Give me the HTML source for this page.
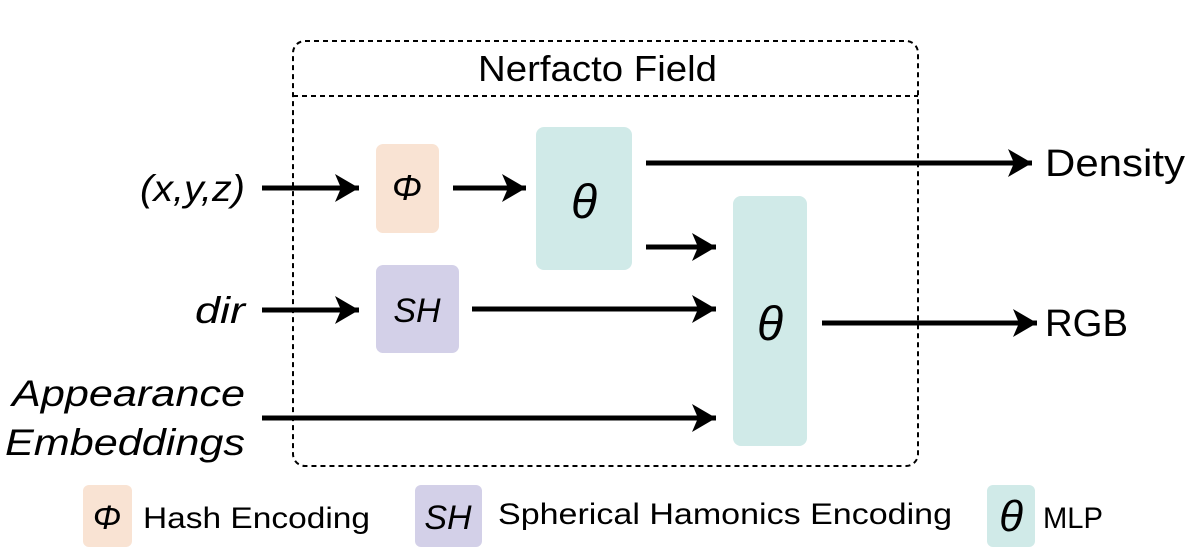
<!DOCTYPE html>
<html><head><meta charset="utf-8"><style>
html,body{margin:0;padding:0;background:#fff;}
svg{display:block;}
text{font-family:"Liberation Sans",sans-serif;fill:#000;}
.i{font-style:italic;}
</style></head><body>
<svg width="1191" height="557" viewBox="0 0 1191 557" xmlns="http://www.w3.org/2000/svg">
<defs>
<marker id="a" markerWidth="26" markerHeight="28" refX="24" refY="14" orient="auto" markerUnits="userSpaceOnUse">
<path d="M24,14 L0,0 L6,14 L0,28 Z" fill="#000"/>
</marker>
</defs>
<rect x="293" y="41" width="625" height="425" rx="12" fill="none" stroke="#000" stroke-width="2" stroke-dasharray="5,4"/>
<line x1="293" y1="96" x2="918" y2="96" stroke="#000" stroke-width="2" stroke-dasharray="5,4"/>
<text x="478" y="81" font-size="36" textLength="239" lengthAdjust="spacingAndGlyphs">Nerfacto Field</text>
<rect x="376" y="144" width="63" height="89" rx="7" fill="#f9e3d3"/>
<text x="407" y="200" font-size="36" class="i" text-anchor="middle">Φ</text>
<rect x="536" y="127" width="96" height="143" rx="8" fill="#d0eae8"/>
<text x="584" y="218" font-size="48" class="i" text-anchor="middle">θ</text>
<rect x="376" y="265" width="83" height="88" rx="7" fill="#d3d0e8"/>
<text x="417" y="322" font-size="34" class="i" text-anchor="middle">SH</text>
<rect x="733" y="196" width="74" height="250" rx="8" fill="#d0eae8"/>
<text x="770" y="340" font-size="48" class="i" text-anchor="middle">θ</text>
<g stroke="#000" stroke-width="5" marker-end="url(#a)">
<line x1="262" y1="188" x2="359" y2="188"/>
<line x1="453" y1="188" x2="526" y2="188"/>
<line x1="646" y1="163" x2="1032" y2="163"/>
<line x1="646" y1="247" x2="716" y2="247"/>
<line x1="262" y1="310" x2="359" y2="310"/>
<line x1="472" y1="309" x2="716" y2="309"/>
<line x1="262" y1="418" x2="716" y2="418"/>
<line x1="822" y1="323" x2="1037" y2="323"/>
</g>
<text x="140" y="201" font-size="37" class="i" textLength="105" lengthAdjust="spacingAndGlyphs">(x,y,z)</text>
<text x="195" y="323" font-size="37" class="i" textLength="50" lengthAdjust="spacingAndGlyphs">dir</text>
<text x="12" y="406" font-size="37" class="i" textLength="233" lengthAdjust="spacingAndGlyphs">Appearance</text>
<text x="5" y="455" font-size="37" class="i" textLength="240" lengthAdjust="spacingAndGlyphs">Embeddings</text>
<text x="1045" y="176" font-size="38" textLength="140" lengthAdjust="spacingAndGlyphs">Density</text>
<text x="1045" y="336" font-size="38" textLength="83" lengthAdjust="spacingAndGlyphs">RGB</text>
<rect x="83" y="485" width="49" height="62" rx="6" fill="#f9e3d3"/>
<text x="107" y="529" font-size="34" class="i" text-anchor="middle">Φ</text>
<text x="143" y="528" font-size="30" textLength="227" lengthAdjust="spacingAndGlyphs">Hash Encoding</text>
<rect x="415" y="485" width="67" height="62" rx="6" fill="#d3d0e8"/>
<text x="448" y="529" font-size="34" class="i" text-anchor="middle">SH</text>
<text x="498" y="524" font-size="30" textLength="454" lengthAdjust="spacingAndGlyphs">Spherical Hamonics Encoding</text>
<rect x="987" y="485" width="48" height="62" rx="6" fill="#d0eae8"/>
<text x="1011" y="531" font-size="44" class="i" text-anchor="middle">θ</text>
<text x="1043" y="528" font-size="30" textLength="60" lengthAdjust="spacingAndGlyphs">MLP</text>
</svg>
</body></html>
